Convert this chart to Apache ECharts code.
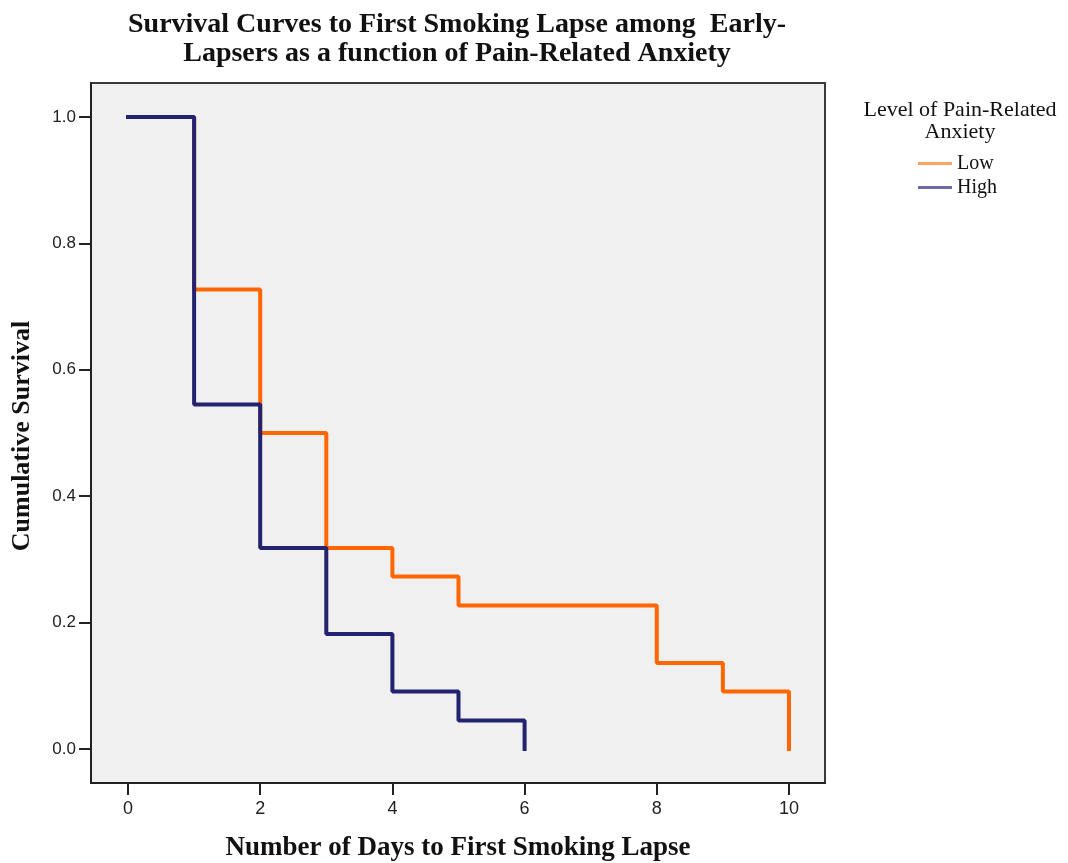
<!DOCTYPE html>
<html>
<head>
<meta charset="utf-8">
<script src="https://cdn.jsdelivr.net/npm/echarts@6/dist/echarts.min.js"></script>
<style>html,body{margin:0;padding:0;background:#fff;}#c{width:1068px;height:863px;}</style>
</head>
<body>
<div id="c"></div>
<script>
const seriesNames = ['Low', 'High'];
const lowDays = [0, 1, 2, 3, 4, 5, 8, 9, 10];
const lowSurvival = [1.0, 0.727, 0.5, 0.318, 0.273, 0.227, 0.136, 0.091, 0.0];
const highDays = [0, 1, 2, 3, 4, 5, 6];
const highSurvival = [1.0, 0.545, 0.318, 0.182, 0.091, 0.045, 0.0];
const xTicks = [0, 2, 4, 6, 8, 10];
const yTicks = [0.0, 0.2, 0.4, 0.6, 0.8, 1.0];
const titleLines = ['Survival Curves to First Smoking Lapse among  Early-', 'Lapsers as a function of Pain-Related Anxiety'];
const xTitle = 'Number of Days to First Smoking Lapse';
const yTitle = 'Cumulative Survival';
const legendTitle = ['Level of Pain-Related', 'Anxiety'];

const pairs = (xs, ys) => xs.map((x, i) => [x, ys[i]]);
const serif = '"Liberation Serif", "DejaVu Serif", serif';
const sans = '"Liberation Sans", Arial, sans-serif';

const chart = echarts.init(document.getElementById('c'), null, {renderer: 'canvas'});
chart.setOption({
  animation: false,
  backgroundColor: '#ffffff',
  grid: {
    left: 91, top: 83, width: 734, height: 700,
    show: true, backgroundColor: '#f0f0f0', borderColor: '#3a3a3a', borderWidth: 2
  },
  xAxis: {
    type: 'value', min: -0.56, max: 10.545,
    axisLine: {show: true, onZero: false, lineStyle: {color: '#222', width: 2}},
    axisTick: {show: true, customValues: xTicks, length: 12, lineStyle: {color: '#222', width: 2}},
    axisLabel: {customValues: xTicks, margin: 17, color: '#222', fontFamily: sans, fontSize: 18,
      formatter: v => String(v)},
    splitLine: {show: false}
  },
  yAxis: {
    type: 'value', min: -0.0538, max: 1.0538,
    axisLine: {show: true, onZero: false, lineStyle: {color: '#222', width: 2}},
    axisTick: {show: true, customValues: yTicks, length: 12, lineStyle: {color: '#222', width: 2}},
    axisLabel: {customValues: yTicks, margin: 15, color: '#222', fontFamily: sans, fontSize: 17,
      formatter: v => v.toFixed(1)},
    splitLine: {show: false}
  },
  legend: {
    orient: 'vertical', left: 913, top: 148,
    icon: 'rect', itemWidth: 34, itemHeight: 3, itemGap: 3,
    textStyle: {fontFamily: serif, fontSize: 20, color: '#111', lineHeight: 21},
    data: [
      {name: seriesNames[0], itemStyle: {color: '#ffa266'}},
      {name: seriesNames[1], itemStyle: {color: '#6b6ba3'}}
    ]
  },
  graphic: [
    {type: 'text', x: 457, y: 10, style: {text: titleLines.join('\n'), align: 'center', verticalAlign: 'top',
      font: 'bold 28px ' + serif, lineHeight: 29, fill: '#111'}},
    {type: 'text', x: 458, y: 848, style: {text: xTitle, align: 'center', verticalAlign: 'middle',
      font: 'bold 27px ' + serif, fill: '#111'}},
    {type: 'text', x: 22, y: 436, rotation: Math.PI / 2, style: {text: yTitle, align: 'center', verticalAlign: 'middle',
      font: 'bold 26px ' + serif, fill: '#111'}},
    {type: 'text', x: 960, y: 99, style: {text: legendTitle.join('\n'), align: 'center', verticalAlign: 'top',
      font: '22px ' + serif, lineHeight: 22, fill: '#111'}}
  ],
  series: [
    {name: seriesNames[0], type: 'line', step: 'end', data: pairs(lowDays, lowSurvival),
      showSymbol: false, lineStyle: {color: '#ff6600', width: 4, cap: 'square'}, itemStyle: {color: '#ff6600'}, z: 2},
    {name: seriesNames[1], type: 'line', step: 'end', data: pairs(highDays, highSurvival),
      showSymbol: false, lineStyle: {color: '#22226f', width: 4, cap: 'square'}, itemStyle: {color: '#22226f'}, z: 3}
  ]
});
</script>
</body>
</html>
